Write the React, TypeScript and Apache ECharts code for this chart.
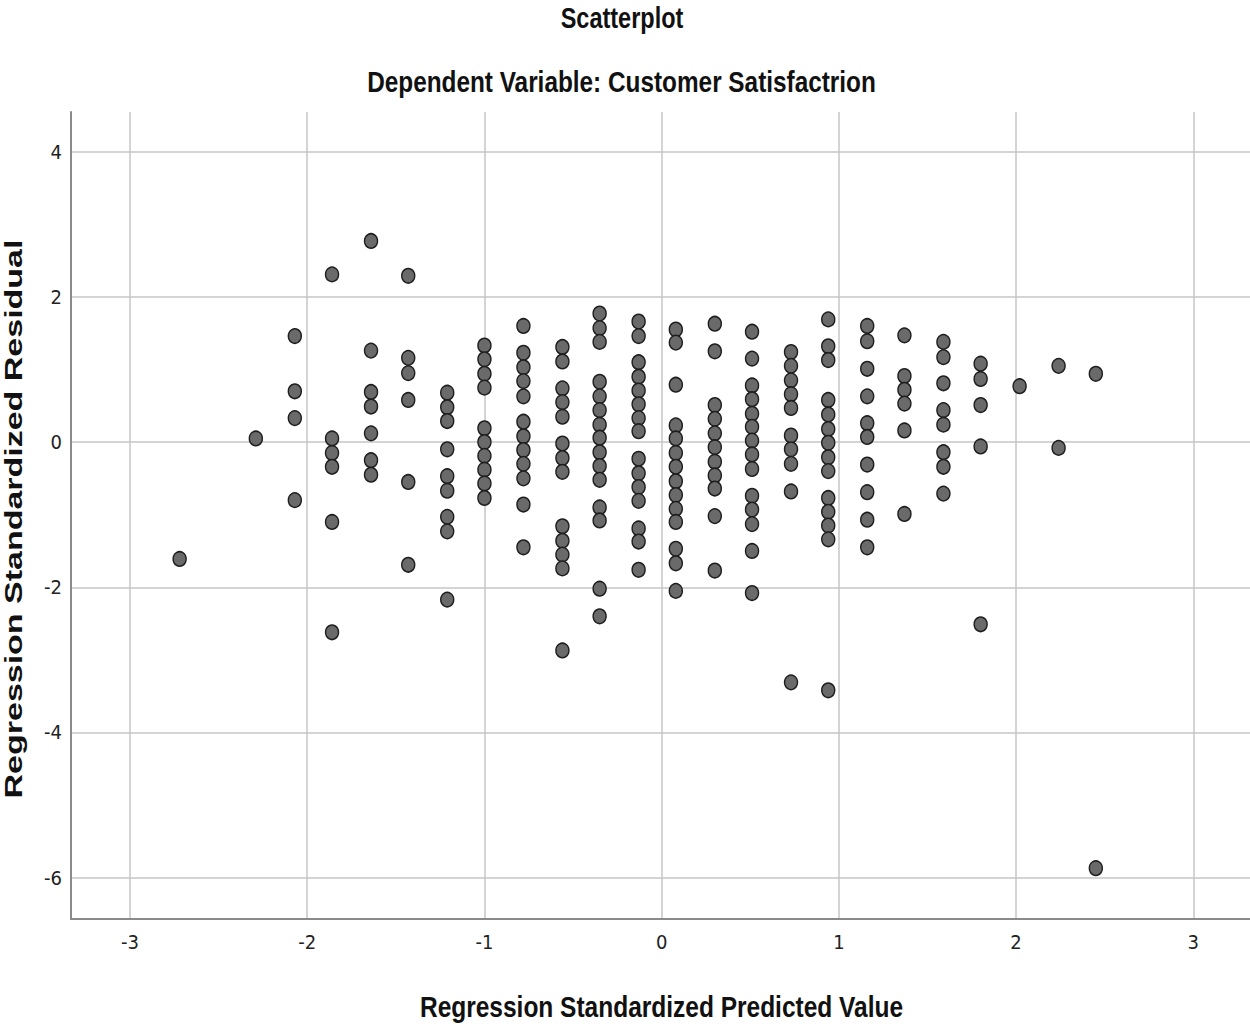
import React, { useEffect, useRef } from "react";
import * as echarts from "echarts";

// Regression standardized predicted values (one per vertical column of points)
const predictedValues: number[] = [
  -2.72, -2.29, -2.07, -1.86, -1.64, -1.43, -1.21, -1.0, -0.78, -0.56, -0.35, -0.13,
  0.08, 0.3, 0.51, 0.73, 0.94, 1.16, 1.37, 1.59, 1.8, 2.02, 2.24, 2.45,
];

// Regression standardized residuals observed at each predicted value
const residualsByColumn: number[][] = [
  [-1.61],
  [0.05],
  [1.46, 0.7, 0.33, -0.8],
  [2.31, 0.05, -0.15, -0.34, -1.1, -2.62],
  [2.77, 1.26, 0.69, 0.49, 0.12, -0.25, -0.45],
  [2.29, 1.16, 0.95, 0.58, -0.55, -1.69],
  [0.68, 0.48, 0.29, -0.1, -0.47, -0.67, -1.03, -1.23, -2.17],
  [1.33, 1.14, 0.94, 0.75, 0.19, 0.0, -0.19, -0.38, -0.57, -0.77],
  [1.6, 1.23, 1.03, 0.84, 0.63, 0.28, 0.08, -0.11, -0.3, -0.5, -0.86, -1.45],
  [1.31, 1.11, 0.74, 0.55, 0.35, -0.02, -0.22, -0.41, -1.16, -1.36, -1.55, -1.74, -2.87],
  [1.77, 1.57, 1.38, 0.83, 0.63, 0.44, 0.24, 0.06, -0.14, -0.33, -0.52, -0.9, -1.08, -2.02, -2.4],
  [1.66, 1.46, 1.1, 0.9, 0.71, 0.52, 0.33, 0.15, -0.23, -0.43, -0.62, -0.81, -1.19, -1.37, -1.76],
  [1.55, 1.37, 0.79, 0.23, 0.05, -0.15, -0.34, -0.54, -0.73, -0.92, -1.1, -1.47, -1.67, -2.05],
  [1.63, 1.25, 0.51, 0.32, 0.12, -0.07, -0.27, -0.46, -0.64, -1.02, -1.77],
  [1.52, 1.15, 0.78, 0.59, 0.39, 0.21, 0.02, -0.17, -0.37, -0.74, -0.93, -1.13, -1.5, -2.08],
  [1.24, 1.05, 0.85, 0.66, 0.47, 0.09, -0.1, -0.3, -0.68, -3.31],
  [1.69, 1.32, 1.13, 0.58, 0.38, 0.18, -0.01, -0.21, -0.4, -0.77, -0.96, -1.15, -1.34, -3.42],
  [1.6, 1.39, 1.01, 0.63, 0.26, 0.07, -0.31, -0.69, -1.07, -1.45],
  [1.47, 0.91, 0.72, 0.53, 0.16, -0.99],
  [1.38, 1.17, 0.81, 0.44, 0.24, -0.14, -0.34, -0.71],
  [1.08, 0.87, 0.51, -0.06, -2.51],
  [0.77],
  [1.05, -0.08],
  [0.94, -5.87],
];

const titleText = "Scatterplot";
const subtitleText = "Dependent Variable: Customer Satisfactrion";
const xAxisTitle = "Regression Standardized Predicted Value";
const yAxisTitle = "Regression Standardized Residual";

const FONT = "'Liberation Sans', Arial, sans-serif";
const TICK_FONT = "'Liberation Sans Narrow', 'Arial Narrow', 'DejaVu Sans Condensed', 'Liberation Sans', sans-serif";

export default function App() {
  const ref = useRef<HTMLDivElement>(null);

  useEffect(() => {
    if (!ref.current) return;
    const chart = echarts.init(ref.current, undefined, { renderer: "svg" });

    const points: number[][] = [];
    predictedValues.forEach((x, i) => {
      residualsByColumn[i].forEach((y) => points.push([x, y]));
    });

    const gridLine = { show: true, showMinLine: false, showMaxLine: false, lineStyle: { color: "#c6c6c6", width: 1.5 } };

    chart.setOption({
      animation: false,
      backgroundColor: "#ffffff",
      grid: { left: 71, right: 0, top: 112, bottom: 109, containLabel: false },
      xAxis: {
        type: "value",
        min: -3.333,
        max: 3.32,
        minInterval: 1,
        maxInterval: 1,
        axisLine: { show: true, onZero: false, lineStyle: { color: "#8a8a8a", width: 2 } },
        axisTick: { show: false },
        axisLabel: { showMinLabel: false, showMaxLabel: false, margin: 13, fontSize: 20, color: "#222", fontFamily: TICK_FONT },
        splitLine: gridLine,
      },
      yAxis: {
        type: "value",
        min: -6.57,
        max: 4.547,
        minInterval: 2,
        maxInterval: 2,
        axisLine: { show: true, onZero: false, lineStyle: { color: "#8a8a8a", width: 2 } },
        axisTick: { show: false },
        axisLabel: { showMinLabel: false, showMaxLabel: false, margin: 9, fontSize: 20, color: "#222", fontFamily: TICK_FONT },
        splitLine: gridLine,
      },
      series: [
        {
          type: "scatter",
          data: points,
          symbol: "circle",
          symbolSize: [13, 14.5],
          itemStyle: { color: "#6a6a6a", borderColor: "#1e1e1e", borderWidth: 1.5, opacity: 1 },
        },
      ],
      graphic: [
        {
          type: "text",
          x: 622,
          y: 18,
          scaleX: 0.81,
          style: { text: titleText, font: `bold 29px ${FONT}`, fill: "#111", textAlign: "center", textVerticalAlign: "middle" },
        },
        {
          type: "text",
          x: 621.5,
          y: 82,
          scaleX: 0.84,
          style: { text: subtitleText, font: `bold 29px ${FONT}`, fill: "#111", textAlign: "center", textVerticalAlign: "middle" },
        },
        {
          type: "text",
          x: 661.5,
          y: 1007,
          scaleX: 0.845,
          style: { text: xAxisTitle, font: `bold 29px ${FONT}`, fill: "#111", textAlign: "center", textVerticalAlign: "middle" },
        },
        {
          type: "text",
          x: 14,
          y: 519,
          rotation: Math.PI / 2,
          scaleY: 0.69,
          style: { text: yAxisTitle, font: `bold 34px ${FONT}`, fill: "#111", textAlign: "center", textVerticalAlign: "middle" },
        },
      ],
    });

    return () => chart.dispose();
  }, []);

  return (
    <div
      ref={ref}
      style={{ position: "fixed", left: 0, top: 0, width: 1250, height: 1028, background: "#fff" }}
    />
  );
}
